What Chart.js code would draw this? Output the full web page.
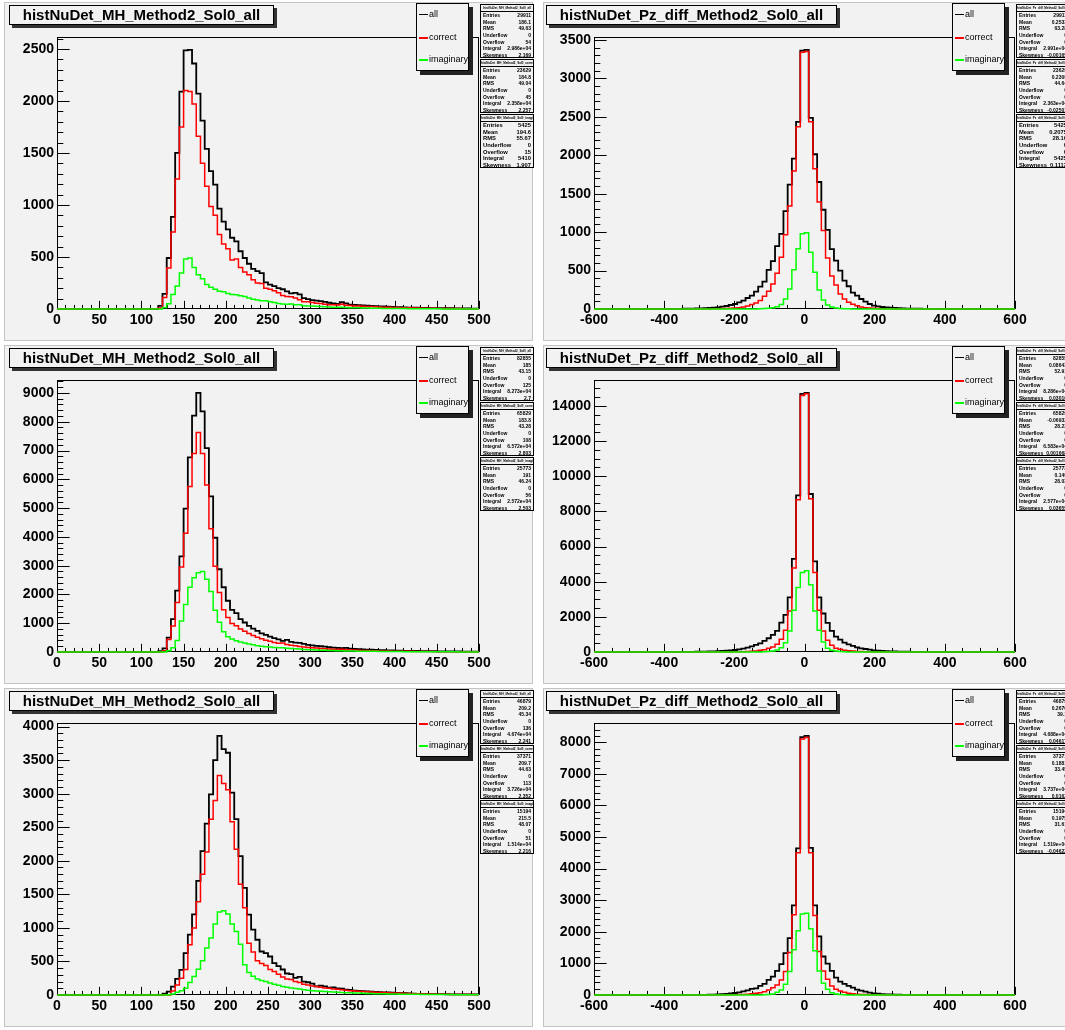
<!DOCTYPE html>
<html>
<head>
<meta charset="utf-8">
<script src="https://cdn.jsdelivr.net/npm/chart.js@4.4.1/dist/chart.umd.min.js"></script>
<style>
body { margin: 0; width: 1065px; height: 1030px; overflow: hidden; background: #fff; position: relative; font-family: "Liberation Sans", Arial, sans-serif; }
.pad { position: absolute; background: #f2f2f2; border: 1px solid #c4c4c4; box-sizing: border-box; }
canvas { position: absolute; }
.title { position: absolute; height: 20px; border: 1px solid #000; background: #f2f2f2; box-shadow: 3px 3px 0 #333; font: bold 15px "Liberation Sans", Arial, sans-serif; text-align: center; line-height: 18px; box-sizing: border-box; white-space: nowrap; }
.leg { position: absolute; width: 53px; height: 68px; border: 1px solid #000; background: #f2f2f2; box-shadow: 4px 4px 0 #222; box-sizing: border-box; }
.leg div { position: absolute; left: 12px; font: 9px "Liberation Sans", Arial, sans-serif; line-height: 10px; white-space: nowrap; }
.leg i { position: absolute; left: -10px; top: 5px; width: 9px; height: 2px; }
.stat { position: absolute; width: 54px; border: 1px solid #000; background: #f2f2f2; box-sizing: border-box; }
.stat .st { height: 6px; border-bottom: 1px solid #000; font: bold 3px "Liberation Sans", Arial, sans-serif; text-align: center; line-height: 6px; overflow: hidden; white-space: nowrap; }
.stat .row { display: flex; justify-content: space-between; font: bold 5px "Liberation Sans", Arial, sans-serif; height: 6.7px; line-height: 6.7px; padding: 0 2px; white-space: nowrap; }
.stat.big .row { font-size: 5.8px; }
</style>
</head>
<body>
<script>
// ROOT canvas: histNuDet MH / Pz_diff, three event samples

const NB = 100
// bins listed from the first non-empty one, empty bins are zero
function hist(first, vals) {
    const h = new Array(NB).fill(0)
    vals.forEach((v, i) => { if (first + i < NB) h[first + i] = v })
    return h
}

// MH, 100 bins 0..500
const mhAll1 = hist(24, [30, 145, 490, 885, 1500, 2090, 2485, 2490, 2360, 2070, 1810, 1540, 1325, 1195, 965, 840, 765, 685, 650, 555, 490, 435, 385, 365, 345, 255, 235, 220, 200, 190, 170, 150, 155, 140, 105, 95, 85, 80, 75, 68, 60, 55, 50, 65, 55, 42, 40, 38, 35, 32, 30, 28, 26, 24, 22, 20, 18, 17, 15, 14, 13, 12, 11, 10, 9, 9, 8, 8, 7, 7, 6, 6, 5, 5, 4, 4])
const mhCor1 = hist(24, [10, 110, 395, 740, 1250, 1750, 2100, 2090, 1970, 1660, 1400, 1180, 985, 900, 715, 625, 580, 470, 480, 400, 355, 330, 280, 250, 245, 200, 190, 175, 155, 130, 120, 118, 105, 90, 70, 70, 63, 55, 52, 45, 42, 40, 38, 45, 36, 34, 30, 28, 27, 25, 23, 22, 20, 18, 17, 15, 14, 13, 12, 11, 10, 9, 8, 8, 7, 7, 6, 6, 5, 5, 4, 4, 3, 3, 3, 3])
const mhImg1 = hist(25, [15, 50, 140, 220, 345, 480, 490, 400, 330, 290, 235, 210, 190, 170, 165, 150, 140, 138, 128, 120, 105, 93, 87, 80, 80, 70, 62, 52, 48, 45, 48, 42, 40, 32, 30, 28, 26, 24, 22, 20, 18, 17, 16, 15, 13, 12, 11, 10, 9, 8, 8, 7, 6, 6, 5, 5, 4, 4, 3, 3, 3, 2, 2, 2, 2, 2, 1, 1, 1, 1, 1, 1, 1, 1, 1])

const mhAll2 = hist(24, [30, 128, 500, 1140, 2130, 3320, 4980, 6760, 8210, 9000, 8360, 7080, 5410, 3970, 2875, 2250, 1780, 1465, 1350, 1140, 1025, 910, 815, 735, 650, 595, 535, 480, 440, 385, 420, 350, 325, 315, 280, 245, 230, 210, 200, 185, 165, 150, 140, 130, 140, 115, 105, 100, 92, 85, 80, 72, 68, 62, 58, 54, 50, 46, 42, 40, 37, 34, 32, 30, 28, 26, 24, 22, 20, 19, 18, 17, 16, 15, 14, 13])
const mhCor2 = hist(25, [40, 430, 900, 1720, 2950, 4130, 5750, 6900, 7625, 6900, 5800, 4280, 2980, 2070, 1465, 1200, 990, 910, 800, 720, 640, 570, 510, 460, 410, 370, 330, 300, 310, 260, 235, 215, 195, 175, 160, 145, 135, 125, 115, 105, 95, 88, 95, 78, 72, 66, 60, 55, 50, 46, 42, 39, 36, 33, 30, 28, 26, 24, 22, 20, 18, 17, 16, 15, 14, 13, 12, 11, 10, 9, 8, 8, 7, 7, 6])
const mhImg2 = hist(26, [40, 150, 400, 1080, 1650, 2250, 2580, 2750, 2800, 2530, 2100, 1450, 1030, 700, 530, 450, 390, 350, 310, 280, 250, 220, 200, 185, 175, 160, 150, 145, 130, 120, 110, 100, 90, 82, 75, 70, 64, 58, 53, 48, 44, 42, 38, 35, 32, 30, 28, 26, 24, 22, 20, 18, 17, 16, 15, 14, 13, 12, 11, 10, 9, 8, 8, 7, 7, 6, 6, 5, 5, 4, 4, 3, 3, 3])

const mhAll3 = hist(25, [20, 50, 125, 240, 375, 625, 900, 1200, 1700, 2145, 2555, 2990, 3500, 3860, 3665, 3610, 3015, 2620, 2070, 1595, 1197, 973, 823, 648, 623, 574, 474, 430, 380, 320, 310, 255, 270, 200, 190, 170, 130, 140, 130, 110, 115, 100, 95, 80, 75, 65, 62, 58, 55, 50, 47, 44, 40, 37, 34, 30, 28, 26, 24, 20, 18, 17, 16, 15, 14, 13, 12, 11, 10, 10, 9, 9, 8, 8, 8])
const mhCor3 = hist(27, [60, 150, 250, 380, 750, 1000, 1390, 1800, 2130, 2620, 2900, 3270, 3150, 3060, 2580, 2170, 1650, 1300, 770, 640, 510, 470, 440, 380, 350, 310, 270, 240, 230, 200, 185, 160, 150, 135, 125, 115, 105, 100, 90, 85, 78, 70, 65, 60, 56, 52, 48, 45, 42, 39, 36, 33, 30, 28, 26, 24, 22, 20, 18, 16, 15, 14, 13, 12, 11, 10, 9, 8, 7, 7, 6, 6, 5])
const mhImg3 = hist(26, [5, 15, 40, 65, 100, 185, 275, 385, 510, 700, 850, 1057, 1237, 1257, 1207, 1057, 948, 758, 449, 334, 280, 240, 215, 200, 180, 160, 145, 125, 115, 105, 95, 90, 80, 72, 65, 60, 55, 52, 48, 45, 42, 38, 35, 32, 30, 28, 26, 24, 22, 20, 18, 17, 16, 15, 14, 13, 12, 11, 10, 10, 9, 9, 8, 8, 7, 7, 6, 6, 5, 5, 5, 4, 4, 4])

// Pz_diff, 100 bins -600..600
const pzAll1 = hist(18, [1, 1, 2, 3, 4, 5, 7, 9, 11, 14, 17, 22, 30, 39, 52, 65, 87, 109, 143, 174, 226, 291, 357, 509, 622, 817, 978, 1274, 1617, 1955, 2435, 3360, 3370, 2487, 2013, 1652, 1291, 1030, 778, 630, 500, 370, 296, 213, 174, 130, 96, 65, 43, 35, 26, 22, 17, 13, 10, 8, 6, 5, 4, 3, 2, 2, 1, 1])
const pzCor1 = hist(28, [2, 3, 5, 7, 10, 13, 17, 26, 39, 57, 78, 109, 165, 230, 326, 465, 674, 965, 1339, 1796, 2370, 3340, 3350, 2435, 1826, 1391, 1022, 665, 430, 313, 196, 130, 87, 61, 43, 26, 17, 13, 9, 6, 4, 3, 2])
const pzImg1 = hist(38, [1, 2, 5, 9, 17, 30, 57, 130, 261, 509, 783, 978, 991, 739, 478, 248, 117, 52, 26, 13, 7, 4, 2, 1])

const pzAll2 = hist(16, [1, 2, 3, 4, 5, 7, 9, 12, 15, 19, 24, 30, 38, 48, 60, 76, 95, 114, 152, 190, 248, 324, 400, 495, 629, 781, 971, 1200, 1676, 2114, 3105, 5295, 8910, 14690, 14740, 8990, 5160, 3105, 2190, 1657, 1200, 876, 705, 533, 438, 343, 267, 210, 171, 133, 95, 76, 57, 45, 35, 28, 22, 17, 13, 10, 8, 6, 5, 4, 3, 2, 1])
const pzCor2 = hist(29, [2, 3, 5, 7, 10, 15, 21, 30, 42, 57, 95, 133, 210, 286, 438, 724, 1240, 2340, 4780, 8670, 14600, 14700, 8720, 4530, 2380, 1200, 667, 381, 210, 152, 95, 76, 50, 35, 24, 16, 11, 7, 5, 3, 2])
const pzImg2 = hist(37, [1, 3, 7, 14, 28, 57, 114, 248, 533, 1200, 2380, 3676, 4530, 4630, 3830, 2340, 1240, 571, 210, 95, 50, 25, 12, 6, 3, 1])

const pzAll3 = hist(22, [1, 2, 3, 5, 7, 10, 14, 20, 28, 38, 50, 64, 85, 117, 148, 191, 212, 286, 350, 477, 583, 763, 975, 1324, 1800, 2840, 4640, 8160, 8200, 4660, 2840, 1854, 1218, 996, 763, 551, 424, 350, 286, 233, 170, 138, 106, 74, 53, 40, 30, 22, 16, 11, 8, 5, 4, 3, 2, 1])
const pzCor3 = hist(30, [2, 3, 5, 8, 12, 18, 26, 37, 52, 74, 106, 159, 233, 318, 477, 741, 1345, 2540, 4500, 8100, 8150, 4500, 2520, 1377, 763, 498, 286, 180, 127, 85, 53, 38, 27, 19, 13, 9, 6, 4, 3, 2])
const pzImg3 = hist(38, [1, 3, 7, 15, 32, 85, 159, 339, 741, 1430, 2034, 2563, 2585, 2097, 1398, 763, 371, 180, 74, 32, 15, 7, 3, 1])

const legendLabels = ['all', 'correct', 'imaginary']
const lineColors = ['#000000', '#ff0000', '#00ff00']
const statNames = ['Entries', 'Mean', 'RMS', 'Underflow', 'Overflow', 'Integral', 'Skewness']

const mhStats1 = [['29911', '186.1', '49.63', '0', '54', '2.986e+04', '2.169'], ['23629', '184.8', '49.04', '0', '45', '2.358e+04', '2.257'], ['5425', '194.6', '55.67', '0', '15', '5410', '1.907']]
const mhStats2 = [['82855', '185', '43.15', '0', '125', '8.273e+04', '2.7'], ['65829', '183.8', '43.28', '0', '108', '6.572e+04', '2.803'], ['25773', '191', '46.24', '0', '56', '2.572e+04', '2.503']]
const mhStats3 = [['46879', '209.2', '45.34', '0', '136', '4.674e+04', '2.241'], ['37371', '209.7', '44.63', '0', '113', '3.726e+04', '2.352'], ['15194', '215.5', '48.07', '0', '51', '1.514e+04', '2.216']]
const pzStats1 = [['29911', '0.2533', '63.28', '0', '0', '2.991e+04', '-0.00165'], ['23629', '0.2309', '44.64', '0', '0', '2.363e+04', '-0.02501'], ['5425', '0.2075', '28.16', '0', '0', '5425', '0.1113']]
const pzStats2 = [['82855', '0.08643', '52.91', '0', '0', '8.286e+04', '0.03016'], ['65829', '-0.06932', '28.23', '0', '0', '6.583e+04', '0.001668'], ['25773', '0.149', '28.03', '0', '0', '2.577e+04', '0.03655']]
const pzStats3 = [['46879', '0.2676', '39.1', '0', '0', '4.688e+04', '0.04617'], ['37371', '0.1881', '33.45', '0', '0', '3.737e+04', '0.0162'], ['15194', '0.1975', '31.61', '0', '0', '1.519e+04', '-0.04622']]

const mhTitle = 'histNuDet_MH_Method2_Sol0_all'
const pzTitle = 'histNuDet_Pz_diff_Method2_Sol0_all'
const statSuffix = ['all', 'correct', 'imaginary']

// pad layout, left column = MH, right column = Pz_diff
const cols = {
    mh: { ox: 0, lo: 0, hi: 500, xStep: 50, xDiv: 5, L: 57, R: 479, titleX: 9, titleW: 265, legX: 416, statX: 480, padX: 4, padW: 529, name: mhTitle, stem: 'histNuDet_MH_Method2_Sol0_' },
    pz: { ox: 540, lo: -600, hi: 600, xStep: 200, xDiv: 4, L: 54, R: 475, titleX: 6, titleW: 291, legX: 412, statX: 476, padX: 3, padW: 532, name: pzTitle, stem: 'histNuDet_Pz_diff_Method2_Sol0_' }
}

const pads = [
    { col: 'mh', oy: 0, series: [mhAll1, mhCor1, mhImg1], yStep: 500, yDiv: 5, stats: mhStats1, big: true },
    { col: 'pz', oy: 0, series: [pzAll1, pzCor1, pzImg1], yStep: 500, yDiv: 5, stats: pzStats1, big: true },
    { col: 'mh', oy: 343, series: [mhAll2, mhCor2, mhImg2], yStep: 1000, yDiv: 5, stats: mhStats2 },
    { col: 'pz', oy: 343, series: [pzAll2, pzCor2, pzImg2], yStep: 2000, yDiv: 4, stats: pzStats2 },
    { col: 'mh', oy: 686, series: [mhAll3, mhCor3, mhImg3], yStep: 500, yDiv: 5, stats: mhStats3 },
    { col: 'pz', oy: 686, series: [pzAll3, pzCor3, pzImg3], yStep: 1000, yDiv: 5, stats: pzStats3 }
]

const PW = 537, PH = 343, T = 37, B = 309

// frame + inward ROOT style ticks, drawn under the histograms
const rootFrame = {
    id: 'rootFrame',
    beforeDatasetsDraw(chart, args, o) {
        const { ctx, chartArea: a, scales: { x, y } } = chart
        ctx.save()
        ctx.strokeStyle = '#000'
        ctx.lineWidth = 1
        ctx.strokeRect(Math.round(a.left) + 0.5, Math.round(a.top) + 0.5, Math.round(a.width) - 1, Math.round(a.height) - 1)
        ctx.beginPath()
        const xm = o.xStep / o.xDiv
        for (let i = 0; x.min + i * xm <= x.max + 1e-6; i++) {
            const px = Math.round(x.getPixelForValue(x.min + i * xm)) + 0.5
            const len = (i % o.xDiv === 0 ? 0.03 : 0.015) * a.height
            ctx.moveTo(px, a.bottom)
            ctx.lineTo(px, a.bottom - len)
        }
        const ym = o.yStep / o.yDiv
        for (let i = 0; i * ym <= y.max + 1e-6; i++) {
            const py = Math.round(y.getPixelForValue(i * ym)) + 0.5
            const len = (i % o.yDiv === 0 ? 0.03 : 0.015) * a.width
            ctx.moveTo(a.left, py)
            ctx.lineTo(a.left + len, py)
        }
        ctx.stroke()
        ctx.restore()
    }
}

function steps(vals, lo, w) {
    const pts = vals.map((v, k) => ({ x: lo + k * w, y: v }))
    pts.push({ x: lo + vals.length * w, y: vals[vals.length - 1] })
    return pts
}

function el(cls, css, parent) {
    const d = document.createElement('div')
    d.className = cls
    Object.assign(d.style, css)
    ;(parent || document.body).appendChild(d)
    return d
}

const tickFont = { family: '"Liberation Sans", Arial, sans-serif', size: 14, weight: 'bold' }

pads.forEach(p => {
    const c = cols[p.col]
    const ox = c.ox, oy = p.oy

    el('pad', { left: ox + c.padX + 'px', top: oy + 2 + 'px', width: c.padW + 'px', height: '339px' })

    const cv = document.createElement('canvas')
    cv.width = PW
    cv.height = PH
    cv.style.left = ox + 'px'
    cv.style.top = oy + 'px'
    document.body.appendChild(cv)

    const w = (c.hi - c.lo) / NB
    const ymax = Math.max(...p.series[0], ...p.series[1], ...p.series[2]) * 1.05

    new Chart(cv.getContext('2d'), {
        type: 'line',
        data: {
            datasets: p.series.map((s, j) => ({
                label: legendLabels[j],
                data: steps(s, c.lo, w),
                borderColor: lineColors[j],
                borderWidth: j === 0 ? 1.8 : 1.5,
                pointRadius: 0,
                stepped: 'before',
                fill: false,
                clip: 4,
                order: 3 - j
            }))
        },
        options: {
            responsive: false,
            animation: false,
            events: [],
            layout: { padding: { top: T, right: PW - c.R, left: 0, bottom: 0 } },
            plugins: {
                legend: { display: false },
                tooltip: { enabled: false },
                rootFrame: { xStep: c.xStep, xDiv: c.xDiv, yStep: p.yStep, yDiv: p.yDiv }
            },
            scales: {
                x: {
                    type: 'linear', min: c.lo, max: c.hi,
                    afterFit: s => { s.height = PH - B },
                    grid: { display: false, drawTicks: false },
                    border: { display: false },
                    ticks: { stepSize: c.xStep, includeBounds: false, autoSkip: false, maxRotation: 0, padding: 3, color: '#000', font: tickFont, callback: v => String(v) }
                },
                y: {
                    type: 'linear', min: 0, max: ymax,
                    afterFit: s => { s.width = c.L },
                    // labelled ticks only at whole multiples of the step, like ROOT
                    afterBuildTicks: s => {
                        const t = []
                        for (let v = 0; v <= s.max; v += p.yStep) t.push({ value: v })
                        s.ticks = t
                    },
                    grid: { display: false, drawTicks: false },
                    border: { display: false },
                    ticks: { autoSkip: false, padding: 3, color: '#000', font: tickFont, callback: v => String(v) }
                }
            }
        },
        plugins: [rootFrame]
    })

    // title box
    const t = el('title', { left: ox + c.titleX + 'px', top: oy + 5 + 'px', width: c.titleW + 'px' })
    t.textContent = c.name

    // legend box
    const lg = el('leg', { left: ox + c.legX + 'px', top: oy + 3 + 'px' })
    legendLabels.forEach((lab, j) => {
        const r = el('', { top: [5, 28, 50][j] + 'px' }, lg)
        r.textContent = lab
        const m = document.createElement('i')
        m.style.background = lineColors[j]
        if (j === 0) m.style.height = '1px'
        r.appendChild(m)
    })

    // stats boxes
    p.stats.forEach((vals, b) => {
        const box = el('stat' + (p.big && b === 2 ? ' big' : ''), { left: ox + c.statX + 'px', top: oy + [4, 59, 114][b] + 'px', height: '54px' })
        el('st', {}, box).textContent = c.stem + statSuffix[b]
        statNames.forEach((n, k) => {
            const r = el('row', {}, box)
            const a = document.createElement('span'); a.textContent = n
            const v = document.createElement('span'); v.textContent = vals[k]
            r.appendChild(a); r.appendChild(v)
        })
    })
})
</script>
</body>
</html>
